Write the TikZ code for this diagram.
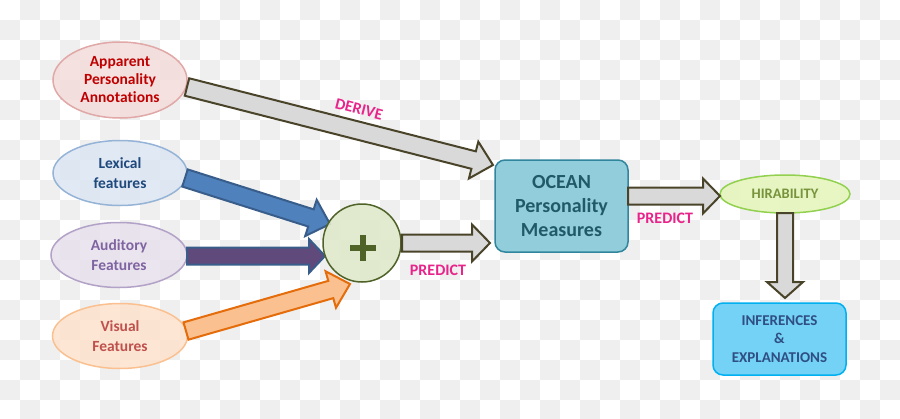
\documentclass[tikz,border=0pt]{standalone}
\usepackage{fontspec}
\setmainfont{Carlito}[Ligatures={NoCommon}]
\usetikzlibrary{shapes.geometric,calc}
\definecolor{chk}{HTML}{EFEFEF}
\definecolor{appfill}{HTML}{F2DCDB}\definecolor{appdraw}{HTML}{E0A8A6}\definecolor{apptext}{HTML}{C00000}
\definecolor{lexfill}{HTML}{DCE6F2}\definecolor{lexdraw}{HTML}{95B3D7}\definecolor{lextext}{HTML}{1F497D}
\definecolor{audfill}{HTML}{E6E0EC}\definecolor{auddraw}{HTML}{B3A2C7}\definecolor{audtext}{HTML}{8064A2}
\definecolor{visfill}{HTML}{FDE3CC}\definecolor{visdraw}{HTML}{FAC090}\definecolor{vistext}{HTML}{C0504D}
\definecolor{plusfill}{HTML}{DFE9CB}\definecolor{plusdraw}{HTML}{4F6228}
\definecolor{ocfill}{HTML}{92CDDC}\definecolor{ocdraw}{HTML}{31859C}\definecolor{octext}{HTML}{215968}
\definecolor{hirfill}{HTML}{E4F5B8}\definecolor{hirdraw}{HTML}{92D050}\definecolor{hirtext}{HTML}{77933C}
\definecolor{inffill}{HTML}{74D2F6}\definecolor{infdraw}{HTML}{00B0F0}\definecolor{inftext}{HTML}{2F4F84}
\definecolor{arrgray}{HTML}{D9D9D9}\definecolor{arrborder}{HTML}{494429}
\definecolor{lexarr}{HTML}{4F81BD}\definecolor{lexarrd}{HTML}{385D8A}
\definecolor{audarr}{HTML}{604A7B}
\definecolor{visarr}{HTML}{FAC090}\definecolor{visarrd}{HTML}{E46C0A}
\definecolor{lblmag}{HTML}{E8248A}
\newcommand{\myblockarrow}[6]{%
  \coordinate (ba-h) at ($(#3)!#6!(#2)$);
  \draw[#1] ($(#2)!#4!90:(#3)$) -- ($(ba-h)!#4!90:(#3)$) -- ($(ba-h)!#5!90:(#3)$) -- (#3)
    -- ($(ba-h)!#5!-90:(#3)$) -- ($(ba-h)!#4!-90:(#3)$) -- ($(#2)!#4!-90:(#3)$) -- cycle;}
\tikzset{
  ell/.style={ellipse, inner sep=0pt, line width=1.5pt, align=center, fill opacity=0.85, text opacity=1,
    font=\bfseries\fontsize{15.5}{20.5}\selectfont},
  grayarrow/.style={fill=arrgray, draw=arrborder, line width=2pt, line join=miter},
  lbl/.style={text=lblmag, font=\bfseries\fontsize{16}{18}\selectfont, inner sep=0pt},
  boxnode/.style={rounded corners=10pt, inner sep=0pt, line width=1.5pt, align=center},
}
\begin{document}
\begin{tikzpicture}[x=1pt,y=-1pt]
\useasboundingbox (0,0) rectangle (900,418);
\begin{scope}
\clip (0,0) rectangle (900,418);
\foreach \i in {0,...,44}{\foreach \j in {0,...,20}{\ifodd\numexpr\i+\j\relax
  \fill[chk] (\i*20,\j*20) rectangle ++(20,20);\fi}}
\end{scope}
% nodes
\node[ell, minimum width=134pt, minimum height=76pt, fill=appfill, draw=appdraw, text=apptext,
  font=\bfseries\fontsize{15.5}{18}\selectfont] (app) at (120,80) {Apparent\\Personality\\Annotations};
\node[ell, minimum width=134pt, minimum height=65pt, fill=lexfill, draw=lexdraw, text=lextext] (lex) at (120,173) {Lexical\\features};
\node[ell, minimum width=136pt, minimum height=65pt, fill=audfill, draw=auddraw, text=audtext] (aud) at (119,255) {Auditory\\Features};
\node[ell, minimum width=135pt, minimum height=65pt, fill=visfill, draw=visdraw, text=vistext] (vis) at (120,336) {Visual\\Features};
\node[boxnode, minimum width=133pt, minimum height=92pt, fill=ocfill, draw=ocdraw, text=octext,
  font=\bfseries\fontsize{20}{24}\selectfont] (ocean) at (561.5,206) {OCEAN\\Personality\\Measures};
\node[ell, minimum width=130pt, minimum height=38pt, fill=hirfill, draw=hirdraw, text=hirtext,
  font=\bfseries\fontsize{14.5}{17}\selectfont] (hira) at (785,194) {HIRABILITY};
\node[boxnode, minimum width=133pt, minimum height=72pt, fill=inffill, draw=infdraw, text=inftext,
  font=\bfseries\fontsize{15}{18.3}\selectfont] (inf) at (779.5,339) {INFERENCES\\\&\\EXPLANATIONS};
% connector end points
\coordinate (dS) at (187,87);   \coordinate (dE) at (493,165);
\coordinate (lS) at (185,178);  \coordinate (lE) at (330,224);
\coordinate (aS) at (187,256);  \coordinate (aE) at (325,256);
\coordinate (vS) at (186,331);  \coordinate (vE) at (350,284);
\coordinate (pS) at (402,243);  \coordinate (pE) at (490,243);
\coordinate (oS) at (628,196);  \coordinate (oE) at (720,196);
\coordinate (hS) at (785,213);  \coordinate (hE) at (785,298);
% arrows
\myblockarrow{grayarrow}{dS}{dE}{9pt}{19pt}{20pt}
\myblockarrow{fill=lexarr, draw=lexarrd, line width=2pt}{lS}{lE}{9pt}{19pt}{20pt}
\myblockarrow{fill=audarr, draw=lexarrd, line width=2pt}{aS}{aE}{8.5pt}{17pt}{16pt}
\myblockarrow{fill=visarr, draw=visarrd, line width=2pt}{vS}{vE}{9pt}{19pt}{20pt}
\node[circle, minimum size=78pt, inner sep=0pt, fill=plusfill, fill opacity=0.9, draw=plusdraw, line width=1.5pt] (plus) at (362,243) {};
\draw[plusdraw, line width=6pt] ($(plus.center)+(-12,5)$) -- ($(plus.center)+(14,5)$);
\draw[plusdraw, line width=6pt] ($(plus.center)+(1,-8)$) -- ($(plus.center)+(1,18)$);
\myblockarrow{grayarrow}{pS}{pE}{8.5pt}{18.5pt}{18pt}
\myblockarrow{grayarrow}{oS}{oE}{8.5pt}{17.5pt}{17pt}
\myblockarrow{grayarrow}{hS}{hE}{8pt}{18pt}{16pt}
% labels
\node[lbl, rotate=-14.3] (derive) at (359,109) {DERIVE};
\node[lbl] (pred1) at (438,270) {PREDICT};
\node[lbl] (pred2) at (665,218) {PREDICT};
\end{tikzpicture}
\end{document}
